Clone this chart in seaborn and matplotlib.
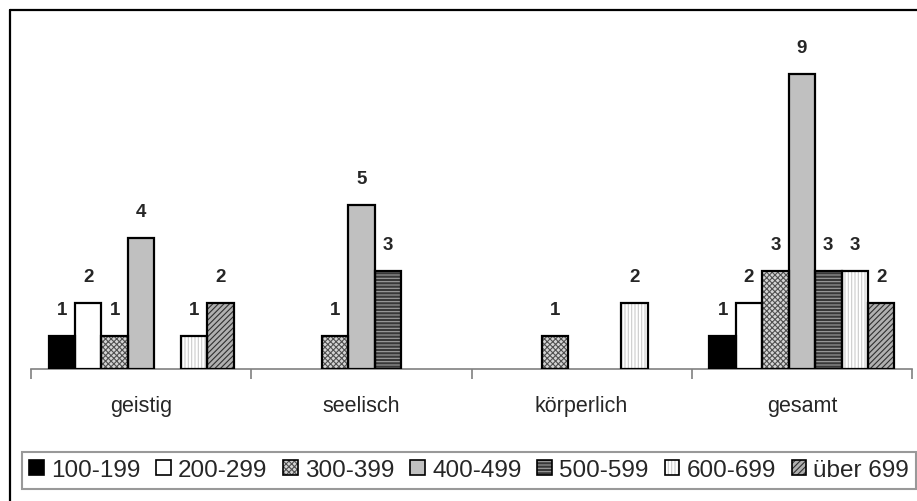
import numpy as np
import pandas as pd
import seaborn as sns
import matplotlib.pyplot as plt
from matplotlib.patches import Rectangle, Patch
from matplotlib.lines import Line2D

# Kategorien und Punktbereiche
categories = ["geistig", "seelisch", "körperlich", "gesamt"]
ranges = ["100-199", "200-299", "300-399", "400-499", "500-599", "600-699", "über 699"]

# Anzahl je Punktbereich (geistig, seelisch, körperlich, gesamt)
v_100_199 = [1, 0, 0, 1]
v_200_299 = [2, 0, 0, 2]
v_300_399 = [1, 1, 1, 3]
v_400_499 = [4, 5, 0, 9]
v_500_599 = [0, 3, 0, 3]
v_600_699 = [1, 0, 2, 3]
v_ueber_699 = [2, 0, 0, 2]

series = [v_100_199, v_200_299, v_300_399, v_400_499, v_500_599, v_600_699, v_ueber_699]

# Füllung je Bereich: (Flächenfarbe, Schraffur, Schraffurfarbe)
styles = [
    ("#000000", "", "#000000"),
    ("#ffffff", "", "#ffffff"),
    ("#d4d4d4", "xxxxxx", "#505050"),
    ("#c0c0c0", "", "#c0c0c0"),
    ("#383838", "-----", "#a0a0a0"),
    ("#ffffff", "|||||", "#cccccc"),
    ("#b0b0b0", "//////", "#303030"),
]

rows = []
for rng, vals in zip(ranges, series):
    for cat, v in zip(categories, vals):
        rows.append({"Bereich": cat, "Punkte": rng, "Anzahl": v})
df = pd.DataFrame(rows)

sns.set_style("white")
plt.rcParams["font.family"] = ["Liberation Sans", "DejaVu Sans"]
plt.rcParams["hatch.linewidth"] = 0.8

W, H = 917, 502
fig = plt.figure(figsize=(W / 100, H / 100), dpi=100)
ax = fig.add_axes([31 / W, 132 / H, 881 / W, 328 / H])

sns.barplot(data=df, x="Bereich", y="Anzahl", hue="Punkte", order=categories,
            hue_order=ranges, width=0.84, gap=0, legend=False, ax=ax,
            errorbar=None)

for cont, (fc, hatch, hc), vals in zip(ax.containers, styles, series):
    for bar, v in zip(cont.patches, vals):
        if v == 0:
            bar.set_visible(False)
            continue
        bar.set_facecolor(fc)
        bar.set_hatch(hatch)
        bar.set_edgecolor(hc)
        bar.set_linewidth(0)
        outline = Rectangle(bar.get_xy(), bar.get_width(), bar.get_height(),
                            fill=False, edgecolor="black", linewidth=1.6, zorder=3)
        ax.add_patch(outline)
    ax.bar_label(cont, labels=[f"{v}" if v > 0 else "" for v in vals],
                 padding=13, fontsize=13.5, fontweight="bold")

ax.set_ylim(0, 10)
ax.set_xlim(-0.5, 3.5)
ax.set_xlabel("")
ax.set_ylabel("")
ax.set_yticks([])

# Kategoriegrenzen als Teilstriche, Beschriftung mittig
ax.set_xticks([-0.5, 0.5, 1.5, 2.5, 3.5])
ax.set_xticklabels([])
ax.set_xticks(range(len(categories)), minor=True)
ax.set_xticklabels(categories, minor=True, fontsize=15.5)
ax.tick_params(axis="x", which="major", length=7, width=1.2, color="#808080",
               direction="out", bottom=True)
ax.tick_params(axis="x", which="minor", length=0, pad=19)

for s in ["left", "right", "top"]:
    ax.spines[s].set_visible(False)
ax.spines["bottom"].set_color("#808080")
ax.spines["bottom"].set_linewidth(1.2)
ax.patch.set_alpha(0)

# Rahmen des Diagrammbereichs
fig.add_artist(Line2D([10 / W, 10 / W], [1 - 11 / H, -0.1], transform=fig.transFigure,
                      color="black", linewidth=1.6))
fig.add_artist(Line2D([10 / W, 1.1], [1 - 11 / H, 1 - 11 / H], transform=fig.transFigure,
                      color="black", linewidth=1.6))

# Legende
handles = []
for fc, hatch, hc in styles:
    fill = Patch(facecolor=fc, hatch=hatch, edgecolor=hc, linewidth=0)
    edge = Patch(facecolor="none", edgecolor="black", linewidth=1.2)
    handles.append((fill, edge))

leg = fig.legend(handles, ranges, ncol=7, loc="upper left",
                 bbox_to_anchor=(22 / W, 1 - 453 / H), borderaxespad=0,
                 fontsize=17.5, handlelength=0.6, handleheight=0.6,
                 handletextpad=0.3, columnspacing=0.65, borderpad=0.3,
                 frameon=True, fancybox=False, edgecolor="#808080")
leg.get_frame().set_linewidth(1.5)

fig.savefig("out.png", dpi=100)
